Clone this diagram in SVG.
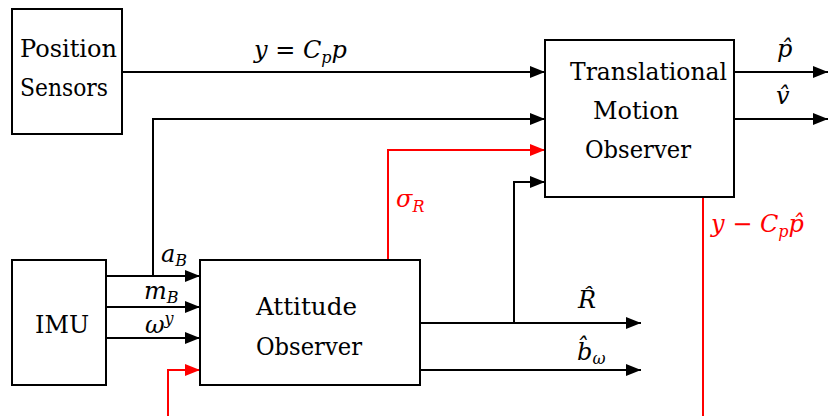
<svg xmlns="http://www.w3.org/2000/svg" width="828" height="416" viewBox="0 0 828 416">
<defs>
<marker id="ab" markerUnits="userSpaceOnUse" markerWidth="16" markerHeight="14" refX="15" refY="6" orient="auto"><path d="M0,0 L15,6 L0,12 z" fill="#000"/></marker>
<marker id="ar" markerUnits="userSpaceOnUse" markerWidth="16" markerHeight="14" refX="15" refY="6" orient="auto"><path d="M0,0 L15,6 L0,12 z" fill="#f00"/></marker>
</defs>
<style>
.box{fill:#fff;stroke:#000;stroke-width:2}
text{font-family:'DejaVu Serif','Liberation Serif',serif}
.t{font-size:25px;fill:#000}
.m{font-size:24px;font-style:italic;fill:#000}
.red{fill:#f00}
.s{font-size:16px}
.cb{fill:none;stroke:#000;stroke-width:2}
.cr{fill:none;stroke:#f00;stroke-width:2}
</style>
<g id="connectors">
<path class="cb" d="M122,72 H545" marker-end="url(#ab)"/>
<path class="cb" d="M153,276 V119 H545" marker-end="url(#ab)"/>
<path class="cr" d="M388,260 V150 H545" marker-end="url(#ar)"/>
<path class="cb" d="M514,323 V182 H545" marker-end="url(#ab)"/>
<path class="cb" d="M734,72 H828" marker-end="url(#ab)"/>
<path class="cb" d="M734,119 H828" marker-end="url(#ab)"/>
<path class="cr" d="M703,197 V416"/>
<path class="cb" d="M106,276 H200" marker-end="url(#ab)"/>
<path class="cb" d="M106,307 H200" marker-end="url(#ab)"/>
<path class="cb" d="M106,338 H200" marker-end="url(#ab)"/>
<path class="cr" d="M168,416 V370 H200" marker-end="url(#ar)"/>
<path class="cb" d="M420,323 H641" marker-end="url(#ab)"/>
<path class="cb" d="M420,370 H641" marker-end="url(#ab)"/>
<text class="m" x="254" y="58">y = C<tspan class="s" dy="5">p</tspan><tspan dy="-5">p</tspan></text>
<text class="m red" x="396" y="207">σ<tspan class="s" dy="5">R</tspan></text>
<text class="m red" x="711" y="232">y − C<tspan class="s" dy="5">p</tspan><tspan dy="-5">p̂</tspan></text>
<text class="m" x="777" y="57">p̂</text>
<text class="m" x="776" y="104">v̂</text>
<text class="m" x="161" y="262">a<tspan class="s" dy="4">B</tspan></text>
<text class="m" x="144" y="299">m<tspan class="s" dy="4">B</tspan></text>
<text class="m" x="145" y="333">ω<tspan class="s" dy="-9">y</tspan></text>
<text class="m" x="578" y="308">R̂</text>
<text class="m" x="577" y="360">b̂<tspan class="s" dy="4">ω</tspan></text>
</g>
<g id="position-sensors">
<rect class="box" x="12" y="9" width="110" height="125"/>
<text class="t" x="20" y="57" textLength="97" lengthAdjust="spacingAndGlyphs">Position</text>
<text class="t" x="20" y="96" textLength="88" lengthAdjust="spacingAndGlyphs">Sensors</text>
</g>
<g id="translational-observer">
<rect class="box" x="545" y="40" width="189" height="157"/>
<text class="t" x="570" y="80" textLength="157" lengthAdjust="spacingAndGlyphs">Translational</text>
<text class="t" x="593" y="119" textLength="86" lengthAdjust="spacingAndGlyphs">Motion</text>
<text class="t" x="585" y="158" textLength="106" lengthAdjust="spacingAndGlyphs">Observer</text>
</g>
<g id="imu">
<rect class="box" x="12" y="260" width="94" height="125"/>
<text class="t" x="35" y="333" textLength="54" lengthAdjust="spacingAndGlyphs">IMU</text>
</g>
<g id="attitude-observer">
<rect class="box" x="200" y="260" width="220" height="125"/>
<text class="t" x="256" y="315" textLength="101" lengthAdjust="spacingAndGlyphs">Attitude</text>
<text class="t" x="256" y="355" textLength="106" lengthAdjust="spacingAndGlyphs">Observer</text>
</g>
</svg>
